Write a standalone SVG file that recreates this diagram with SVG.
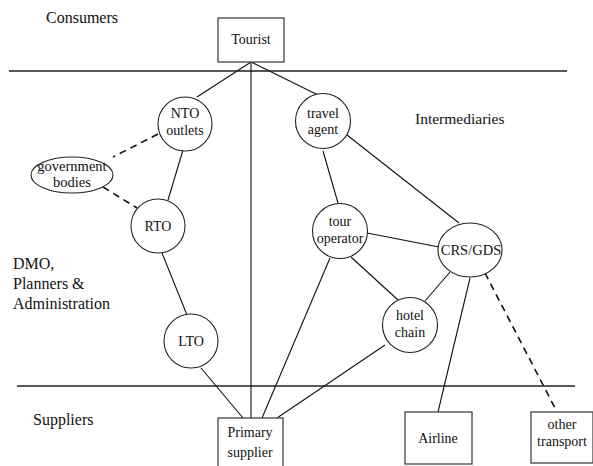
<svg xmlns="http://www.w3.org/2000/svg" width="593" height="466" viewBox="0 0 593 466" font-family="'Liberation Serif','Times New Roman','DejaVu Serif Condensed','DejaVu Serif',serif">
<style>
text{font-family:'Liberation Serif','Times New Roman','DejaVu Serif Condensed','DejaVu Serif',serif;fill:#111;}
.lbl{font-size:16px;}
.n{font-size:14px;text-anchor:middle;}
.shape{fill:#fff;stroke:#222;stroke-width:1.1;}
.box{fill:#fff;stroke:#444;stroke-width:1.3;}
.c{stroke:#111;stroke-width:1.1;fill:none;}
.d{stroke:#111;stroke-width:1.6;fill:none;stroke-dasharray:7 5;}
.band{stroke:#222;stroke-width:1.6;}
</style>
<rect width="593" height="466" fill="#fff"/>
<g id="bands">
<line class="band" x1="9" y1="71" x2="567" y2="71"/>
<line class="band" x1="17" y1="386" x2="575" y2="386"/>
</g>
<g id="labels">
<text class="lbl" x="46" y="23">Consumers</text>
<text class="lbl" x="415" y="124" style="font-size:15.5px">Intermediaries</text>
<text class="lbl" x="13" y="269">DMO,</text>
<text class="lbl" x="13" y="289">Planners &amp;</text>
<text class="lbl" x="13" y="309">Administration</text>
<text class="lbl" x="33" y="425">Suppliers</text>
</g>
<g id="connectors">
<line class="c" x1="251" y1="62" x2="251" y2="418"/>
<line class="c" x1="251" y1="62" x2="197" y2="97"/>
<line class="c" x1="251" y1="62" x2="318" y2="95"/>
<line class="c" x1="183" y1="150" x2="168" y2="200"/>
<line class="d" x1="158" y1="134" x2="113" y2="157"/>
<line class="d" x1="103" y1="187" x2="137" y2="208"/>
<line class="c" x1="162" y1="253" x2="187" y2="315"/>
<line class="c" x1="201" y1="368" x2="243" y2="418"/>
<line class="c" x1="330" y1="258" x2="262" y2="418"/>
<line class="c" x1="385" y1="345" x2="277" y2="418"/>
<line class="c" x1="323" y1="151" x2="338" y2="203"/>
<line class="c" x1="347" y1="135" x2="459" y2="223"/>
<line class="c" x1="367" y1="233" x2="439" y2="247"/>
<line class="c" x1="351" y1="257" x2="398" y2="300"/>
<line class="c" x1="450" y1="272" x2="425" y2="301"/>
<line class="c" x1="470" y1="278" x2="438" y2="412"/>
<line class="d" x1="485" y1="273" x2="555" y2="408"/>
</g>
<g id="tourist">
<rect class="box" x="218" y="18" width="66" height="44"/>
<text class="n" x="251" y="44">Tourist</text>
</g>
<g id="nto">
<circle class="shape" cx="185" cy="124" r="27"/>
<text class="n" x="185" y="118">NTO</text>
<text class="n" x="185" y="135">outlets</text>
</g>
<g id="government">
<ellipse class="shape" cx="72" cy="175" rx="41" ry="18"/>
<text class="n" x="72" y="171" style="font-size:14.5px">government</text>
<text class="n" x="72" y="187" style="font-size:14.5px">bodies</text>
</g>
<g id="rto">
<circle class="shape" cx="158" cy="226" r="27"/>
<text class="n" x="158" y="231">RTO</text>
</g>
<g id="lto">
<circle class="shape" cx="191" cy="341" r="27"/>
<text class="n" x="191" y="346">LTO</text>
</g>
<g id="travel-agent">
<circle class="shape" cx="323" cy="121" r="27.5"/>
<text class="n" x="323" y="118">travel</text>
<text class="n" x="323" y="134">agent</text>
</g>
<g id="tour-operator">
<circle class="shape" cx="340" cy="231" r="27.5"/>
<text class="n" x="340" y="226">tour</text>
<text class="n" x="340" y="243">operator</text>
</g>
<g id="crs-gds">
<ellipse class="shape" cx="470" cy="250" rx="32" ry="27"/>
<text class="n" x="471" y="255" style="font-size:14.5px">CRS/GDS</text>
</g>
<g id="hotel-chain">
<circle class="shape" cx="410" cy="325" r="27.5"/>
<text class="n" x="410" y="320">hotel</text>
<text class="n" x="410" y="337">chain</text>
</g>
<g id="primary-supplier">
<rect class="box" x="218" y="418" width="65" height="60"/>
<text class="n" x="250" y="437">Primary</text>
<text class="n" x="250" y="457">supplier</text>
</g>
<g id="airline">
<rect class="box" x="405" y="412" width="67" height="52"/>
<text class="n" x="438" y="443">Airline</text>
</g>
<g id="other-transport">
<rect class="box" x="531" y="412" width="62" height="51"/>
<text class="n" x="562" y="429">other</text>
<text class="n" x="562" y="446">transport</text>
</g>
</svg>
